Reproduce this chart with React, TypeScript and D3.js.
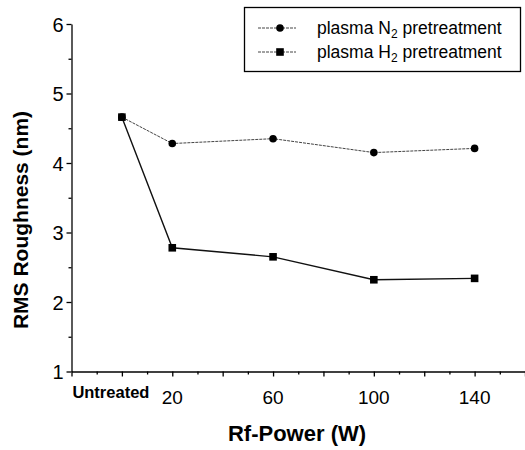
import { useEffect, useRef } from "react";
import * as d3 from "d3";

// x = Rf power in W; 0 is the "Untreated" sample
const power = [0, 20, 60, 100, 140];
const n2Roughness = [4.66, 4.28, 4.35, 4.15, 4.21];
const h2Roughness = [4.66, 2.78, 2.65, 2.32, 2.34];
const xTickLabels = ["20", "60", "100", "140"];
const yTicks = [1, 2, 3, 4, 5, 6];

const W = 525;
const H = 450;
const font = "Arial, 'Liberation Sans', sans-serif";

const App = () => {
  const ref = useRef<SVGSVGElement>(null);

  useEffect(() => {
    const svg = d3.select(ref.current);
    svg.selectAll("*").remove();

    const x = d3.scaleLinear().domain([-20, 160]).range([71.5, 525]);
    const y = d3.scaleLinear().domain([1, 6]).range([371.5, 24]);

    // axes
    const xAxis = svg
      .append("g")
      .attr("transform", `translate(0,${y(1)})`)
      .call(
        d3
          .axisBottom(x)
          .tickValues(d3.range(-20, 161, 20))
          .tickSize(5)
          .tickSizeOuter(0)
          .tickFormat(() => "")
      );
    xAxis
      .append("g")
      .call(
        d3
          .axisBottom(x)
          .tickValues(d3.range(-10, 160, 20))
          .tickSize(3)
          .tickFormat(() => "")
      )
      .select(".domain")
      .remove();
    xAxis.selectAll("path, line").attr("stroke", "#000").attr("stroke-width", 1.3);

    const yAxis = svg
      .append("g")
      .attr("transform", `translate(${x(-20)},0)`)
      .call(
        d3
          .axisLeft(y)
          .tickValues(yTicks)
          .tickSize(5)
          .tickSizeOuter(0)
          .tickPadding(3)
          .tickFormat(d3.format("d"))
      );
    yAxis
      .append("g")
      .call(
        d3
          .axisLeft(y)
          .tickValues(d3.range(1.5, 6, 1))
          .tickSize(3)
          .tickFormat(() => "")
      )
      .select(".domain")
      .remove();
    yAxis.selectAll("path, line").attr("stroke", "#000").attr("stroke-width", 1.3);
    yAxis
      .selectAll("text")
      .attr("font-family", font)
      .attr("font-size", 20)
      .attr("fill", "#000")
      .attr("dy", "0.36em");

    // x tick labels
    svg
      .append("g")
      .selectAll("text")
      .data(xTickLabels)
      .join("text")
      .attr("x", (d) => x(+d))
      .attr("y", 404)
      .attr("text-anchor", "middle")
      .attr("font-family", font)
      .attr("font-size", 19)
      .text((d) => d);
    svg
      .append("text")
      .attr("x", x(0) - 11)
      .attr("y", 398)
      .attr("text-anchor", "middle")
      .attr("font-family", font)
      .attr("font-weight", "bold")
      .attr("font-size", 16.5)
      .text("Untreated");

    // axis titles
    svg
      .append("text")
      .attr("x", 297)
      .attr("y", 441)
      .attr("text-anchor", "middle")
      .attr("font-family", font)
      .attr("font-weight", "bold")
      .attr("font-size", 22)
      .text("Rf-Power (W)");
    svg
      .append("text")
      .attr("transform", `translate(28,220) rotate(-90)`)
      .attr("text-anchor", "middle")
      .attr("font-family", font)
      .attr("font-weight", "bold")
      .attr("font-size", 21)
      .text("RMS Roughness (nm)");

    // series
    const line = d3
      .line<number>()
      .x((_, i) => x(power[i]))
      .y((d) => y(d));

    svg
      .append("path")
      .attr("d", line(n2Roughness))
      .attr("fill", "none")
      .attr("stroke", "#444")
      .attr("stroke-width", 1)
      .attr("stroke-dasharray", "3 1");
    svg
      .append("path")
      .attr("d", line(h2Roughness))
      .attr("fill", "none")
      .attr("stroke", "#111")
      .attr("stroke-width", 1.4);

    svg
      .append("g")
      .selectAll("circle")
      .data(n2Roughness)
      .join("circle")
      .attr("cx", (_, i) => x(power[i]))
      .attr("cy", (d) => y(d))
      .attr("r", 3.8)
      .attr("fill", "#000");
    svg
      .append("g")
      .selectAll("rect")
      .data(h2Roughness)
      .join("rect")
      .attr("x", (_, i) => x(power[i]) - 3.8)
      .attr("y", (d) => y(d) - 3.8)
      .attr("width", 7.6)
      .attr("height", 7.6)
      .attr("fill", "#000");

    // legend
    const lg = svg.append("g");
    lg.append("rect")
      .attr("x", 244.5)
      .attr("y", 7.5)
      .attr("width", 276)
      .attr("height", 64)
      .attr("fill", "#fff")
      .attr("stroke", "#000")
      .attr("stroke-width", 1.3);
    const items = [
      { sub: "N", rowY: 28, shape: "circle" },
      { sub: "H", rowY: 52, shape: "square" },
    ];
    items.forEach((it) => {
      lg.append("line")
        .attr("x1", 258)
        .attr("x2", 296)
        .attr("y1", it.rowY)
        .attr("y2", it.rowY)
        .attr("stroke", "#444")
        .attr("stroke-width", 1)
        .attr("stroke-dasharray", "3 1");
      if (it.shape === "circle") {
        lg.append("circle").attr("cx", 280).attr("cy", it.rowY).attr("r", 3.8).attr("fill", "#000");
      } else {
        lg.append("rect")
          .attr("x", 276.2)
          .attr("y", it.rowY - 3.8)
          .attr("width", 7.6)
          .attr("height", 7.6)
          .attr("fill", "#000");
      }
      const t = lg
        .append("text")
        .attr("x", 317)
        .attr("y", it.rowY + 6)
        .attr("font-family", font)
        .attr("font-size", 17.5);
      t.append("tspan").text(`plasma ${it.sub}`);
      t.append("tspan").attr("font-size", 12).attr("dy", 4).text("2");
      t.append("tspan").attr("dy", -4).text(" pretreatment");
    });
  }, []);

  return (
    <svg
      ref={ref}
      width={W}
      height={H}
      viewBox={`0 0 ${W} ${H}`}
      style={{ position: "absolute", left: 0, top: 0, background: "#fff" }}
    />
  );
};

export default App;
